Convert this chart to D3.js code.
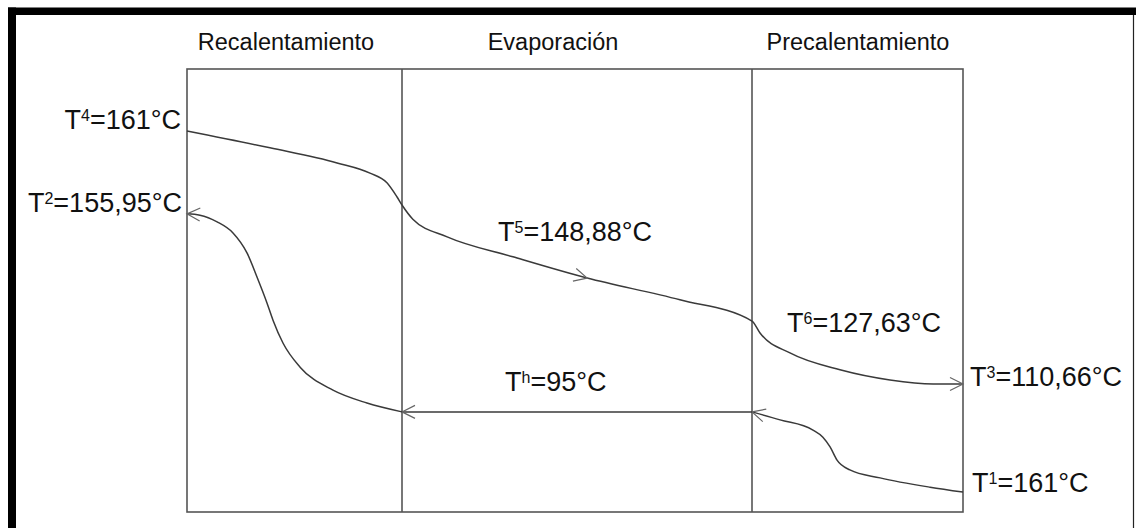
<!DOCTYPE html>
<html>
<head>
<meta charset="utf-8">
<script src="https://cdn.jsdelivr.net/npm/d3@7"></script>
<style>
  html, body { margin: 0; padding: 0; background: #fff; }
  svg { display: block; }
  text { font-family: "Liberation Sans", Arial, sans-serif; fill: #111; }
</style>
</head>
<body>
<svg id="chart" width="1136" height="528"></svg>
<script>
// ---- data ----
const sections = ["Recalentamiento", "Evaporación", "Precalentamiento"];
const sectionBounds = [0, 1, 2, 3];

// hot stream (left -> right), x in section units, y in schematic level units (0 bottom, 100 top)
const hotX = [0, 0.386, 0.698, 0.851, 0.930, 0.977, 1.0, 1.031, 1.129, 1.317, 1.529, 1.794, 2.0, 2.038, 2.180, 2.417, 2.654, 2.858, 3.0];
const hotY = [86.0, 82.2, 78.8, 76.5, 74.3, 71.1, 69.3, 66.1, 62.1, 57.6, 52.8, 47.9, 43.1, 40.4, 35.9, 32.1, 29.8, 28.9, 28.9];

// cold stream (right -> left), three segments
const coldPreX = [3.0, 2.844, 2.607, 2.464, 2.403, 2.370, 2.336, 2.289, 2.133, 2.0];
const coldPreY = [4.5, 5.6, 7.7, 9.5, 11.7, 14.7, 16.9, 18.5, 20.8, 22.6];
const coldEvapX = [2.0, 1.0];
const coldEvapY = [22.6, 22.6];
const coldReX = [1.0, 0.837, 0.679, 0.526, 0.447, 0.400, 0.372, 0.326, 0.279, 0.214, 0.140, 0.060, 0];
const coldReY = [22.6, 24.6, 27.5, 32.7, 38.1, 43.3, 47.2, 53.0, 58.5, 63.0, 65.5, 67.0, 67.3];

const labelNames = ["T", "T", "T", "T", "T", "T", "T"];
const labelSups  = ["4", "2", "5", "h", "6", "3", "1"];
const labelValues = ["=161°C", "=155,95°C", "=148,88°C", "=95°C", "=127,63°C", "=110,66°C", "=161°C"];

// ---- layout ----
const svg = d3.select("#chart");
const x = d3.scaleLinear().domain(sectionBounds).range([187, 402, 752, 963]);
const y = d3.scaleLinear().domain([0, 100]).range([512, 69]);

// frame
svg.append("rect").attr("x", 8).attr("y", 7.5).attr("width", 8).attr("height", 528).attr("fill", "#000");
svg.append("rect").attr("x", 8).attr("y", 7.5).attr("width", 1128).attr("height", 7.5).attr("fill", "#000");
svg.append("line").attr("x1", 1133.5).attr("x2", 1133.5).attr("y1", 15).attr("y2", 528)
  .attr("stroke", "#222").attr("stroke-width", 1.2);

// markers
const defs = svg.append("defs");
defs.append("marker")
  .attr("id", "arr")
  .attr("markerUnits", "userSpaceOnUse")
  .attr("viewBox", "-16 -9 18 18")
  .attr("refX", 0).attr("refY", 0)
  .attr("markerWidth", 18).attr("markerHeight", 18)
  .attr("orient", "auto")
  .append("path")
  .attr("d", "M-13,-6.5 L0,0 L-13,6.5")
  .attr("fill", "none").attr("stroke", "#666").attr("stroke-width", 1.2);

// box and dividers
const boxColor = "#555";
svg.append("rect")
  .attr("x", x(0)).attr("y", y(100))
  .attr("width", x(3) - x(0)).attr("height", y(0) - y(100))
  .attr("fill", "none").attr("stroke", boxColor).attr("stroke-width", 1.6);
svg.selectAll("line.div").data(sectionBounds.slice(1, 3)).enter().append("line")
  .attr("class", "div")
  .attr("x1", d => x(d)).attr("x2", d => x(d))
  .attr("y1", y(100)).attr("y2", y(0))
  .attr("stroke", boxColor).attr("stroke-width", 1.6);

// section headers
const headerX = [286, 553, 858];
svg.selectAll("text.hdr").data(sections).enter().append("text")
  .attr("class", "hdr")
  .attr("x", (d, i) => headerX[i]).attr("y", 50)
  .attr("text-anchor", "middle")
  .style("font-size", "23.5px")
  .text(d => d);

// curves
const line = d3.line().x(d => x(d[0])).y(d => y(d[1])).curve(d3.curveMonotoneX);
const zip = (a, b) => a.map((v, i) => [v, b[i]]);
const curveColor = "#3a3a3a";

const hotPath = svg.append("path")
  .attr("d", line(zip(hotX, hotY)))
  .attr("fill", "none").attr("stroke", curveColor).attr("stroke-width", 1.5)
  .attr("marker-end", "url(#arr)");

[[coldPreX, coldPreY], [coldEvapX, coldEvapY], [coldReX, coldReY]].forEach(([xs, ys]) => {
  svg.append("path")
    .attr("d", line(zip(xs, ys)))
    .attr("fill", "none").attr("stroke", curveColor).attr("stroke-width", 1.5)
    .attr("marker-end", "url(#arr)");
});

// mid arrow on hot curve in evaporation zone
(function () {
  const node = hotPath.node();
  const total = node.getTotalLength();
  const targetX = x(1.529);
  let lo = 0, hi = total;
  for (let k = 0; k < 40; k++) {
    const mid = (lo + hi) / 2;
    if (node.getPointAtLength(mid).x < targetX) lo = mid; else hi = mid;
  }
  const p = node.getPointAtLength(lo);
  const q = node.getPointAtLength(Math.max(0, lo - 5));
  const ang = Math.atan2(p.y - q.y, p.x - q.x) * 180 / Math.PI;
  svg.append("path")
    .attr("d", "M-13,-6.5 L0,0 L-13,6.5")
    .attr("transform", `translate(${p.x},${p.y}) rotate(${ang})`)
    .attr("fill", "none").attr("stroke", "#666").attr("stroke-width", 1.2);
})();

// labels
const labelPos = [
  { x: 181, y: 129, anchor: "end" },
  { x: 182, y: 212, anchor: "end" },
  { x: 498, y: 241, anchor: "start" },
  { x: 505, y: 391, anchor: "start" },
  { x: 787, y: 332, anchor: "start" },
  { x: 970, y: 386, anchor: "start" },
  { x: 972, y: 492, anchor: "start" }
];
labelNames.forEach((n, i) => {
  const t = svg.append("text")
    .attr("x", labelPos[i].x).attr("y", labelPos[i].y)
    .attr("text-anchor", labelPos[i].anchor)
    .style("font-size", "27px");
  t.append("tspan").text(n);
  t.append("tspan").attr("dy", -8).style("font-size", "16px").text(labelSups[i]);
  t.append("tspan").attr("dy", 8).text(labelValues[i]);
});
</script>
</body>
</html>
